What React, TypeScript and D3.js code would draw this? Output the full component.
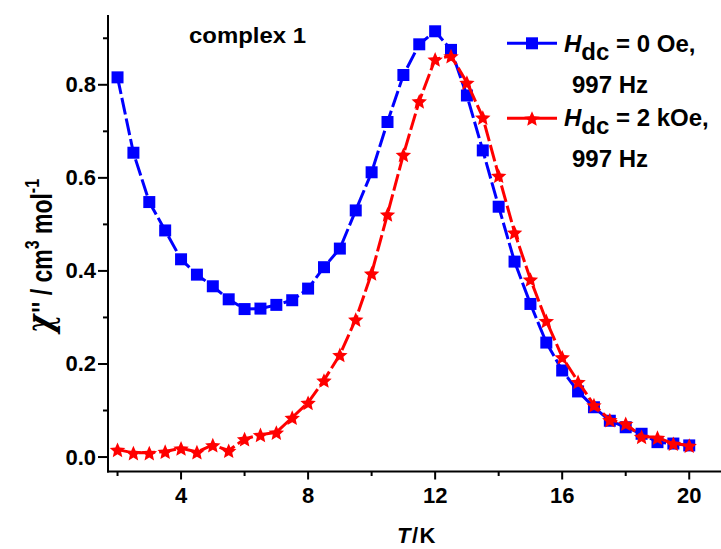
import React from "react";
import * as d3 from "d3";

const temps = [2, 2.5, 3, 3.5, 4, 4.5, 5, 5.5, 6, 6.5, 7, 7.5, 8, 8.5, 9, 9.5, 10, 10.5, 11, 11.5, 12, 12.5, 13, 13.5, 14, 14.5, 15, 15.5, 16, 16.5, 17, 17.5, 18, 18.5, 19, 19.5, 20];
const chiZero = [0.816, 0.654, 0.548, 0.487, 0.425, 0.392, 0.367, 0.339, 0.318, 0.319, 0.327, 0.337, 0.362, 0.408, 0.448, 0.530, 0.612, 0.720, 0.821, 0.887, 0.915, 0.875, 0.777, 0.659, 0.538, 0.420, 0.329, 0.246, 0.186, 0.141, 0.107, 0.078, 0.064, 0.050, 0.032, 0.029, 0.025];
const chiTwo = [0.016, 0.009, 0.009, 0.012, 0.019, 0.011, 0.026, 0.014, 0.039, 0.048, 0.053, 0.085, 0.117, 0.165, 0.220, 0.296, 0.395, 0.522, 0.650, 0.765, 0.855, 0.862, 0.805, 0.730, 0.605, 0.483, 0.382, 0.293, 0.215, 0.162, 0.112, 0.080, 0.072, 0.044, 0.042, 0.029, 0.025];
const xMajor = [4, 8, 12, 16, 20];
const xMinor = [2, 6, 10, 14, 18];
const yMajor = [0, 0.2, 0.4, 0.6, 0.8];
const yMinor = [0.1, 0.3, 0.5, 0.7, 0.9];

const FONT = "Arial, 'Liberation Sans', sans-serif";
const BLUE = "#0000ff";
const RED = "#ff0000";

// fatter five-point star (Origin style)
const fatStar = {
  draw(context: any, size: number) {
    const R = Math.sqrt(size);
    const r = R * 0.46;
    for (let i = 0; i < 10; i++) {
      const rad = i % 2 === 0 ? R : r;
      const a = (i * Math.PI) / 5 - Math.PI / 2;
      const px = rad * Math.cos(a);
      const py = rad * Math.sin(a);
      if (i === 0) context.moveTo(px, py);
      else context.lineTo(px, py);
    }
    context.closePath();
  },
};

export default function App() {
  const W = 721, H = 549;
  const x = d3.scaleLinear().domain([1.7, 21]).range([108, 721]);
  const y = d3.scaleLinear().domain([-0.03, 0.95]).range([471, 15]);
  const axisY = 471.5;
  const axisX = 108;

  const line = d3
    .line<number>()
    .x((_, i) => x(temps[i]))
    .y((d) => y(d));

  const square = d3.symbol().type(d3.symbolSquare).size(144)()!;
  const star = d3.symbol().type(fatStar as any).size(66)()!;

  const legend = [
    { color: BLUE, sym: square, val: "= 0 Oe,", ly: 43.3, ty: 51.7, ty2: 93.3 },
    { color: RED, sym: star, val: "= 2 kOe,", ly: 118.3, ty: 126, ty2: 166.7 },
  ];

  return (
    <svg
      width={W}
      height={H}
      style={{ position: "absolute", left: 0, top: 0, background: "#fff" }}
      fontFamily={FONT}
      fontWeight="bold"
    >
      <rect width={W} height={H} fill="#fff" />
      {/* axes */}
      <line x1={axisX} x2={axisX} y1={15} y2={axisY + 1} stroke="#000" strokeWidth={2} />
      <line x1={axisX - 1} x2={721} y1={axisY} y2={axisY} stroke="#000" strokeWidth={2} />
      {xMajor.map((t) => (
        <g key={"xM" + t}>
          <line x1={x(t)} x2={x(t)} y1={axisY} y2={axisY + 8} stroke="#000" strokeWidth={2} />
          <text x={x(t)} y={503} fontSize={22} textAnchor="middle" fill="#000">
            {t}
          </text>
        </g>
      ))}
      {xMinor.map((t) => (
        <line key={"xm" + t} x1={x(t)} x2={x(t)} y1={axisY} y2={axisY + 4.5} stroke="#000" strokeWidth={2} />
      ))}
      {yMajor.map((v) => (
        <g key={"yM" + v}>
          <line x1={axisX - 10} x2={axisX} y1={y(v)} y2={y(v)} stroke="#000" strokeWidth={2} />
          <text x={96} y={y(v) + 7.5} fontSize={22} textAnchor="end" fill="#000">
            {v.toFixed(1)}
          </text>
        </g>
      ))}
      {yMinor.map((v) => (
        <line key={"ym" + v} x1={axisX - 5} x2={axisX} y1={y(v)} y2={y(v)} stroke="#000" strokeWidth={2} />
      ))}

      {/* axis titles */}
      <text x={397} y={543} fontSize={22} fill="#000" letterSpacing={1.5}>
        <tspan fontStyle="italic">T</tspan>/K
      </text>
      <text
        transform="translate(52,256) rotate(-90) scale(1,1.3)"
        fontSize={23}
        textAnchor="middle"
        fill="#000"
      >
        <tspan fontStyle="italic" fontFamily="'DejaVu Serif', serif" fontSize={28}>χ</tspan>
        <tspan dx={2}>'' / cm</tspan>
        <tspan dy={-10} fontSize={16}>3</tspan>
        <tspan dy={10}> mol</tspan>
        <tspan dy={-10} fontSize={16}>-1</tspan>
      </text>

      <text x={189} y={43.3} fontSize={22} fill="#000" textLength={117} lengthAdjust="spacingAndGlyphs">
        complex 1
      </text>

      {/* series 1 */}
      <path d={line(chiZero)!} fill="none" stroke={BLUE} strokeWidth={3} strokeDasharray="17 4" />
      {chiZero.map((v, i) => (
        <path key={"s" + i} d={square} transform={`translate(${x(temps[i])},${y(v)})`} fill={BLUE} />
      ))}
      {/* series 2 */}
      <path d={line(chiTwo)!} fill="none" stroke={RED} strokeWidth={3} strokeDasharray="17 4" />
      {chiTwo.map((v, i) => (
        <path key={"r" + i} d={star} transform={`translate(${x(temps[i])},${y(v) + 1})`} fill={RED} />
      ))}

      {/* legend */}
      {legend.map((l) => (
        <g key={l.val}>
          <line x1={507} x2={557} y1={l.ly} y2={l.ly} stroke={l.color} strokeWidth={3} />
          <path d={l.sym} transform={`translate(532,${l.ly + (l.color === RED ? 1 : 0)})`} fill={l.color} />
          <text x={564} y={l.ty} fontSize={24} fill="#000">
            <tspan fontStyle="italic">H</tspan>
            <tspan dy={8}>dc</tspan>
            <tspan dy={-8}> {l.val}</tspan>
          </text>
          <text x={572} y={l.ty2} fontSize={24} fill="#000">
            997 Hz
          </text>
        </g>
      ))}
    </svg>
  );
}
